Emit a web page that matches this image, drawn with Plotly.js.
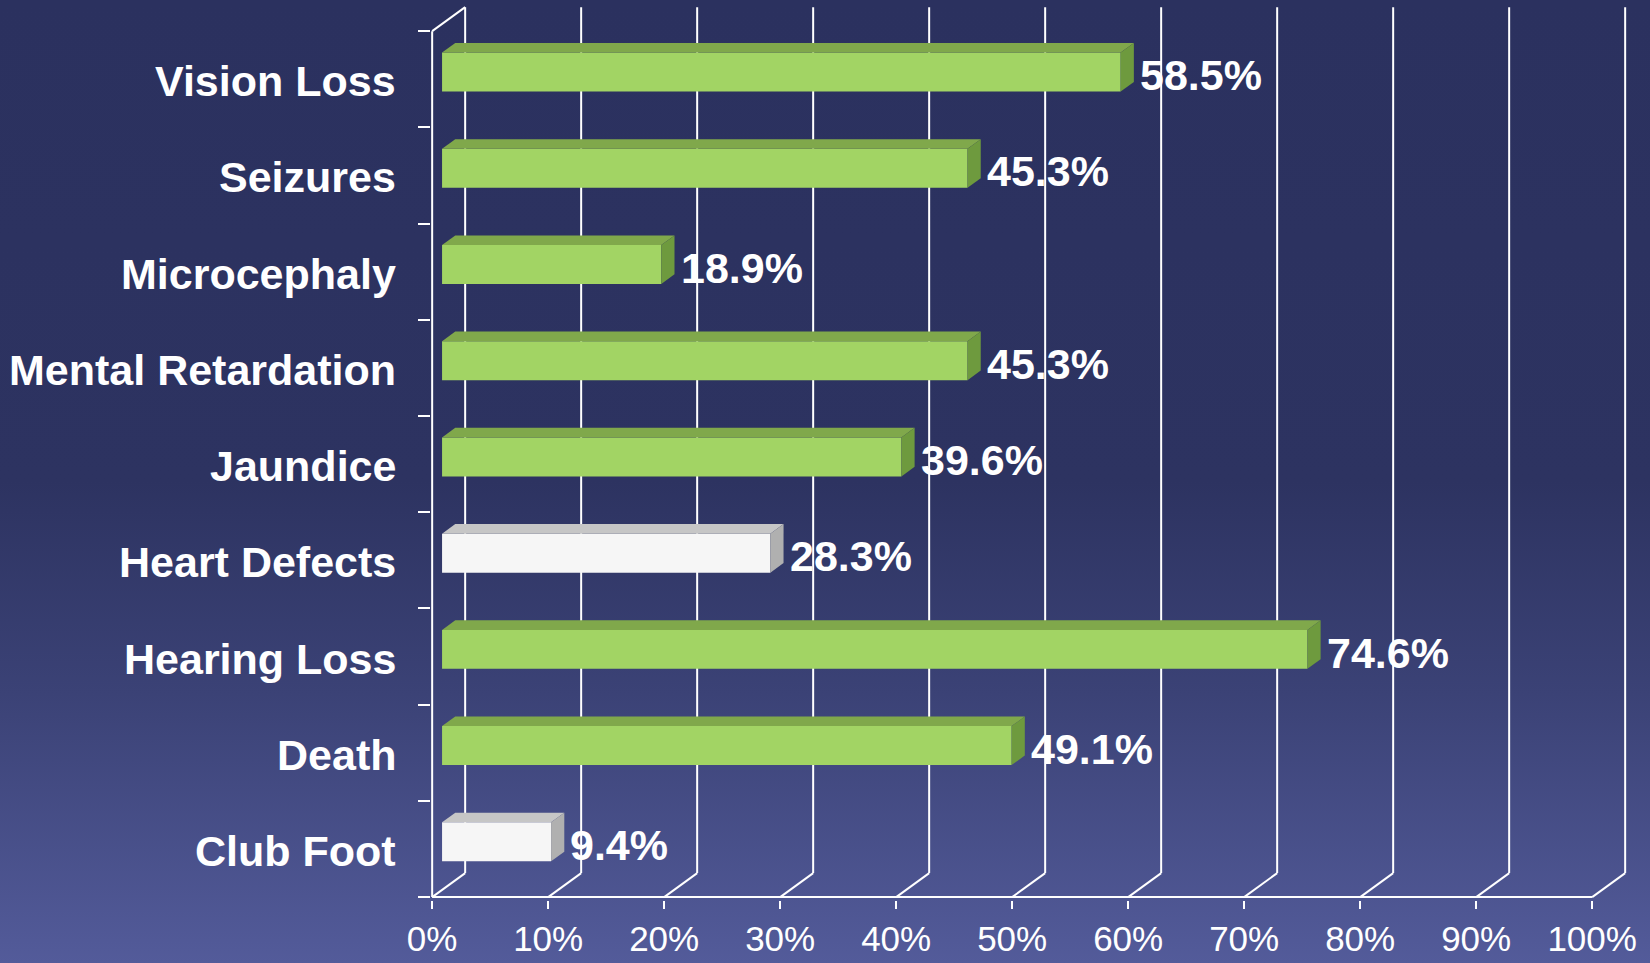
<!DOCTYPE html>
<html>
<head>
<meta charset="utf-8">
<script src="https://cdn.plot.ly/plotly-3.0.1.min.js"></script>
<style>
  html, body { margin: 0; padding: 0; width: 1650px; height: 963px; overflow: hidden;
    background: linear-gradient(to bottom, #2b315f 0%, #2d3361 50%, #3b4276 72%, #535b9a 100%); }
  #chart { width: 1650px; height: 963px; }
</style>
</head>
<body>
<div id="chart"></div>
<script>
// ---- data (top to bottom as shown) ----
const categories = ['Vision Loss', 'Seizures', 'Microcephaly', 'Mental Retardation', 'Jaundice',
                    'Heart Defects', 'Hearing Loss', 'Death', 'Club Foot'];
const values = [58.5, 45.3, 18.9, 45.3, 39.6, 28.3, 74.6, 49.1, 9.4];
const whiteBar = [false, false, false, false, false, true, false, false, true];
const xTickVals = [0, 10, 20, 30, 40, 50, 60, 70, 80, 90, 100];
const xTickText = ['0%', '10%', '20%', '30%', '40%', '50%', '60%', '70%', '80%', '90%', '100%'];

// ---- layout geometry ----
const W = 1650, H = 963;
const ML = 431, MR = 0, MB = 63, MT = 1;
const PX_PER_PCT = 11.6, PX_PER_CAT = 96.22;
const xMin = -0.1;
const xMax = xMin + (W - ML - MR) / PX_PER_PCT;
const yMin = -0.03;
const yMax = yMin + (H - MT - MB) / PX_PER_CAT;
const dx = 33 / PX_PER_PCT;    // depth offset in x units
const dy = 24 / PX_PER_CAT;    // depth offset in y units
const FRONT = 0.3, DEPTH = 0.4, THICK = 0.405;
const n = categories.length;

const GREEN = { front: '#a2d464', top: '#80a84b', side: '#6e9a3e' };
const WHITE = { front: '#f6f6f6', top: '#c6c6c6', side: '#b0b0b0' };
const FONT = 'Liberation Sans, Arial, sans-serif';

const centers = categories.map((c, i) => n - 1 - i + 0.5);

const traces = [];
// front faces
traces.push({
  type: 'bar', orientation: 'h',
  x: values,
  y: centers.map(c => c + FRONT * dy),
  base: values.map(() => FRONT * dx),
  width: values.map(() => THICK),
  marker: { color: whiteBar.map(w => w ? WHITE.front : GREEN.front), line: { width: 0 } },
  hoverinfo: 'skip', showlegend: false
});
// top & side faces
values.forEach((v, i) => {
  const col = whiteBar[i] ? WHITE : GREEN;
  const x0 = FRONT * dx, x1 = x0 + v;
  const yT = centers[i] + FRONT * dy + THICK / 2;
  const yB = yT - THICK;
  const ddx = DEPTH * dx, ddy = DEPTH * dy;
  traces.push({
    type: 'scatter', mode: 'lines', line: { width: 0 }, fill: 'toself', fillcolor: col.top,
    x: [x0, x1, x1 + ddx, x0 + ddx, x0], y: [yT, yT, yT + ddy, yT + ddy, yT],
    hoverinfo: 'skip', showlegend: false
  });
  traces.push({
    type: 'scatter', mode: 'lines', line: { width: 0 }, fill: 'toself', fillcolor: col.side,
    x: [x1, x1, x1 + ddx, x1 + ddx, x1], y: [yB, yT, yT + ddy, yB + ddy, yB],
    hoverinfo: 'skip', showlegend: false
  });
});

// gridlines / 3D frame as shapes below traces
const shapes = [];
const ln = { color: '#ffffff', width: 2 };
function seg(x0, y0, x1, y1) {
  shapes.push({ type: 'line', xref: 'x', yref: 'y', x0, y0, x1, y1, line: ln, layer: 'below' });
}
xTickVals.forEach(t => {
  seg(t, 0, t + dx, dy);              // floor diagonal
  seg(t + dx, dy, t + dx, n + dy);    // back wall vertical
});
seg(0, 0, xTickVals[xTickVals.length - 1], 0); // front floor edge
seg(0, 0, 0, n);                               // front left edge
seg(0, n, dx, n + dy);                         // top-left diagonal

// annotations
const annotations = [];
values.forEach((v, i) => {
  annotations.push({
    xref: 'x', yref: 'y', x: FRONT * dx + v + DEPTH * dx, y: centers[i],
    xanchor: 'left', yanchor: 'middle', xshift: 4, yshift: 4, showarrow: false,
    text: '<b>' + v.toFixed(1) + '%</b>',
    font: { family: FONT, size: 43, color: '#ffffff' }
  });
  annotations.push({
    xref: 'paper', yref: 'y', x: 0, y: centers[i],
    xanchor: 'right', yanchor: 'middle', xshift: -33, yshift: -2, showarrow: false,
    text: '<b>' + categories[i] + '</b>',
    font: { family: FONT, size: 43, color: '#ffffff' }
  });
});

const layout = {
  width: W, height: H,
  margin: { l: ML, r: MR, t: MT, b: MB, pad: 0 },
  paper_bgcolor: 'rgba(0,0,0,0)', plot_bgcolor: 'rgba(0,0,0,0)',
  showlegend: false,
  barmode: 'overlay',
  xaxis: {
    range: [xMin, xMax], showgrid: false, zeroline: false, showline: false,
    tickmode: 'array', tickvals: xTickVals, ticktext: xTickText,
    ticks: 'outside', ticklen: 8, tickwidth: 2, tickcolor: '#ffffff',
    tickfont: { family: FONT, size: 35, color: '#ffffff' },
    fixedrange: true
  },
  yaxis: {
    range: [yMin, yMax], showgrid: false, zeroline: false, showline: false,
    tickmode: 'array', tickvals: categories.map((c, i) => i).concat([n]),
    ticks: 'outside', ticklen: 12, tickwidth: 2, tickcolor: '#ffffff',
    showticklabels: false, fixedrange: true
  },
  shapes, annotations,
  font: { family: FONT, color: '#ffffff' }
};

Plotly.newPlot('chart', traces, layout, { staticPlot: true, displayModeBar: false });
</script>
</body>
</html>
